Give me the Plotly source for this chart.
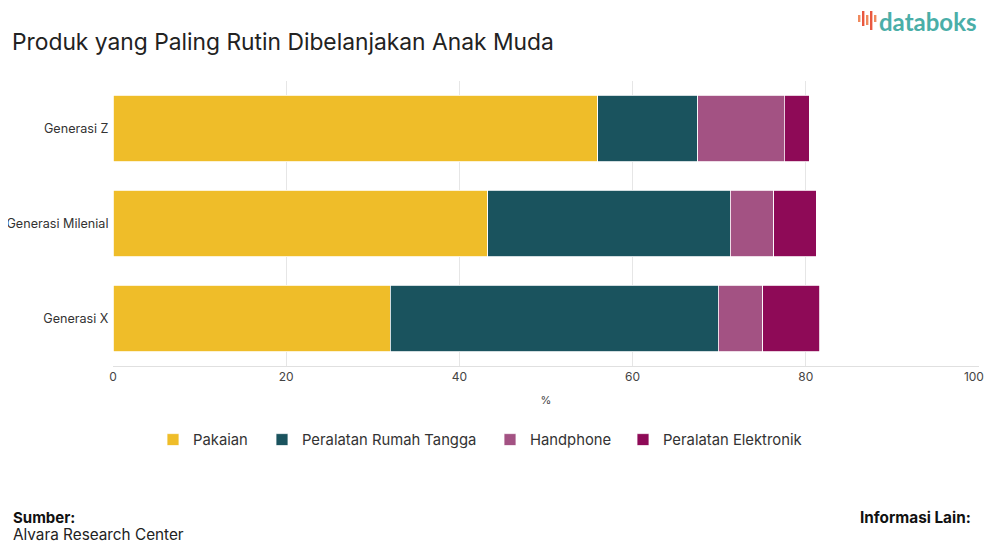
import plotly.graph_objects as go

categories = ["Generasi Z", "Generasi Milenial", "Generasi X"]
series_names = ["Pakaian", "Peralatan Rumah Tangga", "Handphone", "Peralatan Elektronik"]
pakaian = [56.0, 43.3, 32.0]
rumah_tangga = [11.5, 28.0, 37.9]
handphone = [10.0, 5.0, 5.1]
elektronik = [2.9, 4.9, 6.6]
x_ticks = [0, 20, 40, 60, 80, 100]

colors = ["#EFBD29", "#1A535E", "#A35283", "#8E0A57"]
values = [pakaian, rumah_tangga, handphone, elektronik]

# page body has an 8px margin: figure is placed at (8, 8)
OFF = 8
W, H = 994 - OFF, 543 - OFF
L, R, T, B = 113 - OFF, 15, 81 - OFF, 177
PW, PH = W - L - R, H - T - B


def px(x):
    # screenshot pixel x -> paper coordinate
    return (x - OFF - L) / PW


def py(y):
    # screenshot pixel y -> paper coordinate
    return (H - B - (y - OFF)) / PH


legend_ids = ["legend", "legend2", "legend3", "legend4"]
legend_left = [153, 262, 490, 623]

fig = go.Figure()
for name, vals, col, lid in zip(series_names, values, colors, legend_ids):
    fig.add_trace(go.Bar(
        y=categories, x=vals, name=name, orientation="h", legend=lid,
        marker=dict(color=col, line=dict(color="white", width=0.8)),
    ))

# tick labels; the last one nudged left so it stays inside the page
tick_text = [str(v) for v in x_ticks]
tick_text[-1] = tick_text[-1] + "\u00a0\u00a0\u00a0"

annotations = [
    dict(text="<b>Sumber:</b>", x=px(12), y=py(518), xref="paper", yref="paper",
         xanchor="left", yanchor="middle", showarrow=False, borderpad=0,
         font=dict(family="Inter", size=15, color="#111")),
    dict(text="Alvara Research Center", x=px(12), y=py(534), xref="paper", yref="paper",
         xanchor="left", yanchor="middle", showarrow=False, borderpad=0,
         font=dict(family="Inter", size=15.3, color="#222")),
    dict(text="<b>Informasi Lain:</b>", x=px(972), y=py(518), xref="paper", yref="paper",
         xanchor="right", yanchor="middle", showarrow=False, borderpad=0,
         font=dict(family="Inter", size=15.3, color="#111")),
    dict(text="<b>databoks</b>", x=px(877), y=py(21), xref="paper", yref="paper",
         xanchor="left", yanchor="middle", showarrow=False,
         font=dict(family="Lato", size=24, color="#4AAEA8")),
]

# logo icon bars (decoration)
icon = [(858, 15, 22, "#F08A5D"), (862, 11, 26, "#E9573F"), (866, 15, 25, "#F08A5D"),
        (870, 11, 30, "#E9573F"), (874, 15, 22, "#F08A5D")]
shapes = []
for xx, y0, y1, c in icon:
    shapes.append(dict(type="rect", xref="paper", yref="paper",
                       x0=px(xx), x1=px(xx + 2.4), y0=py(y1), y1=py(y0),
                       fillcolor=c, line=dict(width=0)))

legend_style = dict(orientation="h", xanchor="left", y=py(440), yanchor="middle",
                    bgcolor="rgba(0,0,0,0)",
                    font=dict(family="Inter", size=14.8, color="#333"))
legends = {lid: dict(legend_style, x=px(lx)) for lid, lx in zip(legend_ids, legend_left)}

fig.update_layout(
    width=W, height=H,
    barmode="stack",
    bargap=0.3,
    plot_bgcolor="white", paper_bgcolor="white",
    margin=dict(l=L, r=R, t=T, b=B, autoexpand=False),
    title=dict(text="Produk yang Paling Rutin Dibelanjakan Anak Muda",
               x=(12 - OFF) / W, xanchor="left", xref="container",
               y=1 - (42 - OFF) / H, yanchor="middle", yref="container",
               font=dict(family="Inter", size=22.8, color="#222")),
    xaxis=dict(range=[0, 100], tickvals=x_ticks, ticktext=tick_text,
               ticklabeloverflow="allow",
               showgrid=True, gridcolor="#E6E6E6",
               zeroline=False, showline=True, linecolor="#E0E0E0",
               tickfont=dict(family="Inter", size=12, color="#444"),
               title=dict(text="%", font=dict(family="Inter", size=11, color="#444"), standoff=12),
               automargin=False, fixedrange=True),
    yaxis=dict(categoryorder="array", categoryarray=categories[::-1],
               tickfont=dict(family="Inter", size=12.6, color="#333"),
               ticksuffix=" ", showgrid=False, automargin=False, fixedrange=True),
    annotations=annotations,
    shapes=shapes,
    showlegend=True,
    **legends,
)

fig.write_html("out.html")
